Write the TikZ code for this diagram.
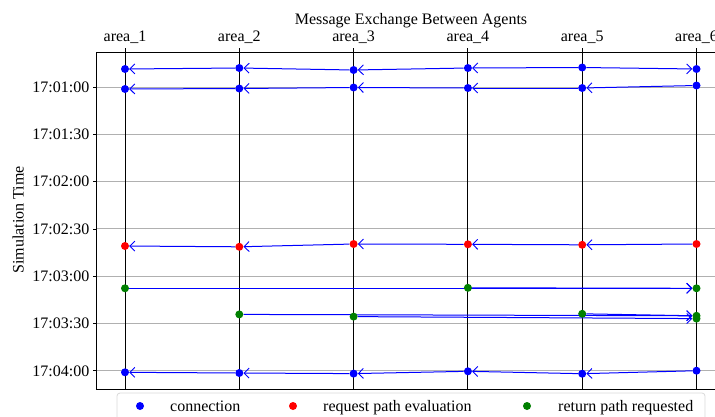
\documentclass[tikz,border=0pt]{standalone}
\usepackage{fontspec}
\setmainfont{Liberation Serif}
\usetikzlibrary{arrows.meta,backgrounds}

\definecolor{retgreen}{RGB}{0,128,0}
\definecolor{gridgray}{RGB}{176,176,176}

\tikzset{
  msg/.style={draw=blue, line width=1pt, -{Straight Barb[length=5pt,width=10pt,line width=0.9pt]}},
  dot/.style={circle, inner sep=0pt, minimum size=8pt},
  conn/.style={dot, fill=blue},
  evalpt/.style={dot, fill=red},
  retpt/.style={dot, fill=retgreen},
  lbl/.style={inner sep=0pt, font=\fontsize{16}{19}\selectfont},
}

\begin{document}
\begin{tikzpicture}[x=1pt,y=-1pt]
\useasboundingbox (0,0) rectangle (715,416);

% grid and area lines
\begin{scope}[on background layer]
\foreach \t/\y [count=\i] in {17:01:00/87,17:01:30/134.3,17:02:00/181.6,17:02:30/228.9,17:03:00/276.2,17:03:30/323.5,17:04:00/370.8} {
  \draw[gridgray, line width=1pt] (96.7,\y) -- (715,\y);
  \draw[line width=0.8pt] (93,\y) -- (96.7,\y);
  \node[lbl, anchor=east] (tick\i) at (89.5,\y) {\t};
}
\foreach \i in {1,...,6} {
  \draw[line width=1pt] ({125+114.3*(\i-1)},48) -- ({125+114.3*(\i-1)},389);
  \node[lbl, anchor=base] (area\i) at ({125+114.3*(\i-1)},41.7) {area\_\i};
}
\draw[line width=0.9pt] (715,52) -- (96.7,52) -- (96.7,389) -- (715,389);
\end{scope}

\node[lbl, anchor=base] (title) at (411,24) {Message Exchange Between Agents};
\node[lbl, anchor=base, rotate=90] (ylab) at (23.5,220) {Simulation Time};

% message end points
\foreach \i/\y in {1/69,2/68,3/70,4/68,5/67.5,6/69}
  \node[conn] (ca\i) at ({125+114.3*(\i-1)},\y) {};
\foreach \i/\y in {1/89,2/88.5,3/87.5,4/88,5/88,6/85.5}
  \node[conn] (cb\i) at ({125+114.3*(\i-1)},\y) {};
\foreach \i/\y in {1/246,2/246.8,3/244,4/244.3,5/244.8,6/244}
  \node[evalpt] (ev\i) at ({125+114.3*(\i-1)},\y) {};
\foreach \i/\y in {1/288.3,4/287.8,6/288.3}
  \node[retpt] (ra\i) at ({125+114.3*(\i-1)},\y) {};
\foreach \i/\y in {2/314.4,3/316.6,5/313.8,6/315.8}
  \node[retpt] (rb\i) at ({125+114.3*(\i-1)},\y) {};
\node[retpt] (rb6x) at (696.5,318.6) {};
\foreach \i/\y in {1/372.3,2/373,3/373.6,4/371.3,5/373.7,6/370.7}
  \node[conn] (cc\i) at ({125+114.3*(\i-1)},\y) {};

% messages
\begin{scope}[on background layer]
\draw[msg] (ca2) -- (ca1);
\draw[msg] (ca3) -- (ca2);
\draw[msg] (ca4) -- (ca3);
\draw[msg] (ca5) -- (ca4);
\draw[msg] (ca5) -- (ca6);
\draw[msg] (cb6) -- (cb5);
\draw[msg] (cb5) -- (cb4);
\draw[msg] (cb4) -- (cb3);
\draw[msg] (cb3) -- (cb2);
\draw[msg] (cb2) -- (cb1);
\draw[msg] (ev6) -- (ev5);
\draw[msg] (ev5) -- (ev4);
\draw[msg] (ev4) -- (ev3);
\draw[msg] (ev3) -- (ev2);
\draw[msg] (ev2) -- (ev1);
\draw[msg] (ra1) -- (ra6);
\draw[msg] (ra4) -- (ra6);
\draw[msg] (rb2) -- (rb6);
\draw[msg] (rb5) -- (rb6);
\draw[msg] (rb3) -- (rb6x);
\draw[msg] (cc6) -- (cc5);
\draw[msg] (cc5) -- (cc4);
\draw[msg] (cc4) -- (cc3);
\draw[msg] (cc3) -- (cc2);
\draw[msg] (cc2) -- (cc1);
\end{scope}

% legend
\draw[rounded corners=3pt, draw=black!15, fill=white, line width=0.8pt] (117,393) rectangle (705,426);
\node[conn] (lgconn) at (140,406) {};
\node[lbl, anchor=base west] (lgconntxt) at (170,411) {connection};
\node[evalpt] (lgeval) at (293,406) {};
\node[lbl, anchor=base west] (lgevaltxt) at (323,411) {request path evaluation};
\node[retpt] (lgret) at (527,406) {};
\node[lbl, anchor=base west] (lgrettxt) at (558,411) {return path requested};
\end{tikzpicture}
\end{document}
